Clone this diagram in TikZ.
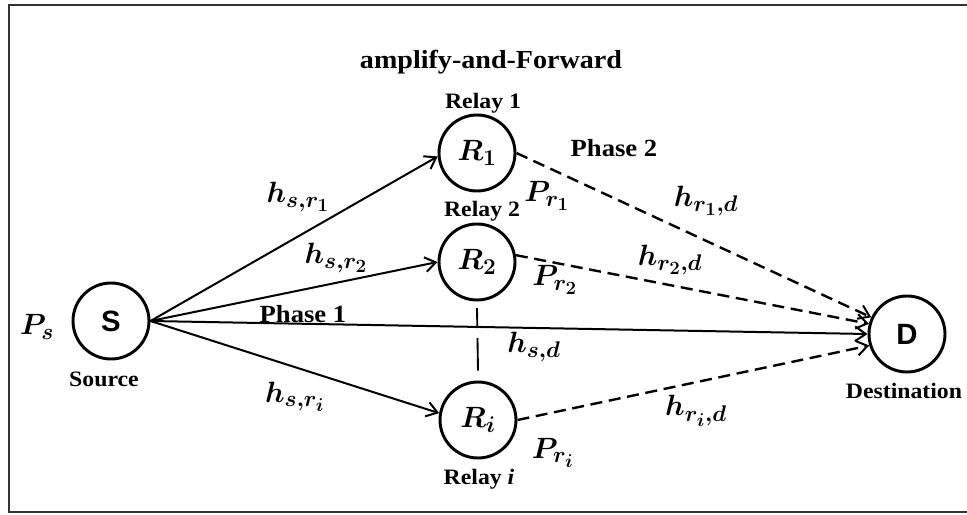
\RequirePackage{fix-cm}
\documentclass[tikz,border=0pt]{standalone}
\usepackage{amsmath,bm}
\usepackage{fontspec}
\setmainfont{Liberation Serif}
\newfontfamily\lblfont[FakeStretch=1.08]{Liberation Serif}
\newfontfamily\letterfont{Liberation Sans}
\DeclareMathSizes{22}{22}{17}{14}
\usetikzlibrary{arrows.meta}

\begin{document}
\begin{tikzpicture}[x=0.75pt,y=-0.75pt,
  station/.style={draw,circle,line width=2.2pt,minimum size=57pt,inner sep=0pt,
    font=\fontsize{22}{26}\selectfont},
  lbl/.style={font=\lblfont\bfseries\fontsize{16.5}{20}\selectfont},
  phase/.style={font=\lblfont\bfseries\fontsize{18.5}{22}\selectfont},
  gain/.style={font=\fontsize{22}{26}\selectfont},
  link/.style={line width=1.5pt,-{Straight Barb[length=8pt,width=11pt,line width=1.5pt]}},
  dlink/.style={link,line width=1.8pt,dash pattern=on 9pt off 5pt}]
  \useasboundingbox (0,0) rectangle (967,514);
  % frame, open on the right
  \draw[line width=2pt,black!80] (967,5) -- (9,5) -- (9,512) -- (967,512);
  % source, relays, destination
  \node[station] (S) at (111,321) {\letterfont\bfseries S};
  \node[station] (R1) at (477,153) {$\bm{R_1}$};
  \node[station] (R2) at (477,262) {$\bm{R_2}$};
  \node[station] (Ri) at (478,420) {$\bm{R_i}$};
  \node[station] (D) at (907,334) {\letterfont\bfseries D};
  % names
  \node[lbl] (src) at (104,379) {Source};
  \node[lbl] (dst) at (904,391) {Destination};
  \node[lbl] (rly1) at (483,103) {Relay 1};
  \node[lbl] (rly2) at (482,211) {Relay 2};
  \node[lbl] (rlyi) at (479,479) {Relay \textit{i}};
  \node[phase,font=\lblfont\bfseries\fontsize{19.5}{23}\selectfont] (af) at (491,62) {amplify-and-Forward};
  \node[phase] (ph1) at (303,314) {Phase 1};
  \node[phase] (ph2) at (614,148) {Phase 2};
  % powers and channels
  \node[gain] (Ps) at (37,327) {$\bm{P_s}$};
  \node[gain] (Pr1) at (547,196) {$\bm{P_{r_1}}$};
  \node[gain] (Pr2) at (555,280) {$\bm{P_{r_2}}$};
  \node[gain] (Pri) at (553,453) {$\bm{P_{r_i}}$};
  \node[gain] (hsr1) at (298,197) {$\bm{h_{s,r_1}}$};
  \node[gain] (hsr2) at (336,258) {$\bm{h_{s,r_2}}$};
  \node[gain] (hsri) at (295,397) {$\bm{h_{s,r_i}}$};
  \node[gain] (hsd) at (534,347) {$\bm{h_{s,d}}$};
  \node[gain] (hr1d) at (706,201) {$\bm{h_{r_1,d}}$};
  \node[gain] (hr2d) at (670,260) {$\bm{h_{r_2,d}}$};
  \node[gain] (hrid) at (696,411) {$\bm{h_{r_i,d}}$};
  % phase 1 links
  \draw[link] (S.east) -- (R1.185);
  \draw[link] (S.east) -- (R2.west);
  \draw[link] (S.east) -- (Ri.170);
  \draw[link] (S.east) -- (D.west);
  % phase 2 links
  \draw[dlink] (R1.east) -- (D.155);
  \draw[dlink] (R2.10) -- (D.165);
  \draw[dlink] (Ri.east) -- (D.197);
  % further relays
  \draw[line width=1.4pt,dash pattern=on 15pt off 7.5pt on 26pt off 7.5pt]
    ([yshift=-5pt]R2.south) -- ([yshift=7.5pt]Ri.north);
\end{tikzpicture}
\end{document}
